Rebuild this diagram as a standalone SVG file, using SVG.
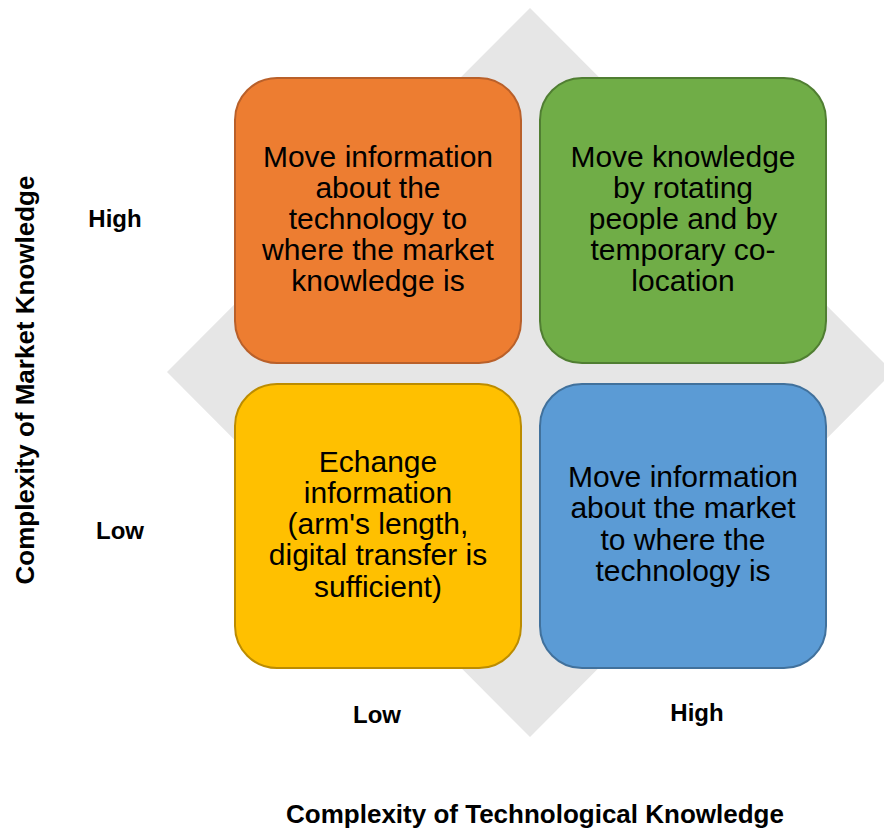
<svg xmlns="http://www.w3.org/2000/svg" width="884" height="828" viewBox="0 0 884 828">
<style>
.box{stroke-width:2}
.t{font-family:"Liberation Sans",Arial,sans-serif;font-size:30px;fill:#000;text-anchor:middle}
.l{font-family:"Liberation Sans",Arial,sans-serif;font-size:24px;font-weight:bold;fill:#000;text-anchor:middle}
.ax{font-size:26px}
</style>
<rect width="884" height="828" fill="#ffffff"/>
<polygon id="diamond" points="530,8 893,372 530,737 167,372" fill="#E6E6E6"/>
<g id="connectors"/>
<g id="q-orange">
<rect class="box" x="235" y="78" width="286" height="285" rx="42" fill="#ED7D31" stroke="#B9602A"/>
<text class="t" x="378" y="167">Move information</text>
<text class="t" x="378" y="198">about the</text>
<text class="t" x="378" y="229">technology to</text>
<text class="t" x="378" y="260">where the market</text>
<text class="t" x="378" y="291">knowledge is</text>
</g>
<g id="q-green">
<rect class="box" x="540" y="78" width="286" height="285" rx="42" fill="#70AD47" stroke="#507E32"/>
<text class="t" x="683" y="167">Move knowledge</text>
<text class="t" x="683" y="198">by rotating</text>
<text class="t" x="683" y="229">people and by</text>
<text class="t" x="683" y="260">temporary co-</text>
<text class="t" x="683" y="291">location</text>
</g>
<g id="q-yellow">
<rect class="box" x="235" y="384" width="286" height="284" rx="42" fill="#FFC000" stroke="#BC8C00"/>
<text class="t" x="378" y="472">Echange</text>
<text class="t" x="378" y="503">information</text>
<text class="t" x="378" y="534">(arm's length,</text>
<text class="t" x="378" y="565">digital transfer is</text>
<text class="t" x="378" y="597">sufficient)</text>
</g>
<g id="q-blue">
<rect class="box" x="540" y="384" width="286" height="284" rx="42" fill="#5B9BD5" stroke="#41719C"/>
<text class="t" x="683" y="487">Move information</text>
<text class="t" x="683" y="518">about the market</text>
<text class="t" x="683" y="550">to where the</text>
<text class="t" x="683" y="581">technology is</text>
</g>
<g id="labels">
<text class="l" x="115" y="227">High</text>
<text class="l" x="120" y="539">Low</text>
<text class="l" x="377" y="723">Low</text>
<text class="l" x="697" y="721">High</text>
<text class="l ax" x="535" y="823">Complexity of Technological Knowledge</text>
<text class="l ax" transform="translate(34,380) rotate(-90)">Complexity of Market Knowledge</text>
</g>
</svg>
